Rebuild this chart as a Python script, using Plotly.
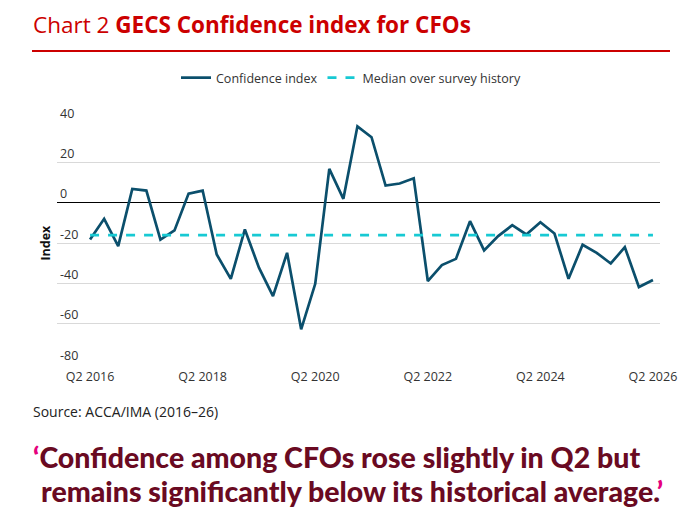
import plotly.graph_objects as go

# quarters Q2 2016 .. Q2 2026
quarters = [f"Q{(q % 4) + 1} {2016 + (q + 1) // 4}" for q in range(1, 42)]
confidence = [
    -18.2, -7.9, -21.5, 6.9, 6.1, -18.2, -13.7, 4.6, 6.1, -25.6,
    -37.7, -13.2, -32.2, -46.3, -24.8, -62.8, -40.2, 16.9, 2.0, 38.0,
    32.6, 8.6, 9.6, 12.2, -38.8, -30.9, -27.8, -9.1, -23.6, -16.5,
    -11.1, -15.7, -9.6, -15.2, -37.7, -20.8, -24.8, -30.1, -22.0, -41.8,
    -38.3,
]
median_value = -16.0
tick_labels = ["Q2 2016", "Q2 2018", "Q2 2020", "Q2 2022", "Q2 2024", "Q2 2026"]
y_ticks = [40, 20, 0, -20, -40, -60, -80]

x_idx = list(range(len(quarters)))

# page body adds an 8px margin, so work in page pixels and shift back
OFF = 8
W, H = 688 - 2 * OFF, 522 - 2 * OFF


def px(x):
    return (x - OFF) / W


def py(y):
    return 1 - (y - OFF) / H


fig = go.Figure()
fig.add_trace(go.Scatter(
    x=x_idx, y=confidence, mode='lines', name='Confidence index',
    line=dict(color='#0B4F6C', width=2.7),
))
fig.add_trace(go.Scatter(
    x=x_idx, y=[median_value] * len(x_idx), mode='lines',
    name='Median over survey history',
    line=dict(color='#17C9D3', width=2.7, dash='dash'),
))

fig.update_layout(
    width=W, height=H,
    margin=dict(l=0, r=0, t=0, b=0, autoexpand=False),
    paper_bgcolor='white', plot_bgcolor='white',
    font=dict(family='Open Sans', size=12, color='#333333'),
    showlegend=True,
    legend=dict(
        orientation='h', x=px(351), xanchor='center', y=py(78), yanchor='middle',
        font=dict(size=12.5, color='#333333'), itemwidth=30, tracegroupgap=0,
    ),
    xaxis=dict(
        domain=[px(57), px(660)], range=[-2.35, 40.5], automargin=False,
        tickvals=[0, 8, 16, 24, 32, 40], ticktext=tick_labels,
        showgrid=False, zeroline=False, showline=False, ticks='',
        ticklabelstandoff=3,
        tickfont=dict(size=12.5, color='#333333'),
    ),
    yaxis=dict(
        domain=[py(364.6), py(121.7)], range=[-80.3, 40.3], automargin=False,
        tickvals=y_ticks, ticktext=[str(v) for v in y_ticks],
        ticklabelposition='inside top', ticklabeloverflow='allow',
        showgrid=True, gridcolor='#D9D9D9', gridwidth=1,
        zeroline=True, zerolinecolor='#000000', zerolinewidth=1.2,
        showline=False, ticks='',
        tickfont=dict(size=12.5, color='#333333'),
        title=dict(text='<b>Index</b>', font=dict(size=12.5, color='#111111'), standoff=6),
    ),
)

fig.add_shape(type='line', xref='paper', yref='paper',
              x0=px(32), x1=px(670), y0=py(51), y1=py(51),
              line=dict(color='#CC0000', width=2))

fig.add_annotation(
    xref='paper', yref='paper', x=px(31), y=py(24), xanchor='left', yanchor='middle',
    text='Chart 2 <b>GECS Confidence index for CFOs</b>', showarrow=False,
    font=dict(family='Open Sans', size=22.5, color='#CC0000'),
)
fig.add_annotation(
    xref='paper', yref='paper', x=px(31), y=py(411), xanchor='left', yanchor='middle',
    text='Source: ACCA/IMA (2016–26)', showarrow=False,
    font=dict(family='Open Sans', size=14, color='#222222'),
)
quote_font = dict(family='Lato', size=28.5, color='#6A0A22', weight=900)
fig.add_annotation(
    xref='paper', yref='paper', x=px(31), y=py(457), xanchor='left', yanchor='middle',
    showarrow=False, font=quote_font,
    text="<span style='color:#E5007D'>‘</span>Confidence among CFOs rose slightly in Q2 but",
)
fig.add_annotation(
    xref='paper', yref='paper', x=px(39), y=py(491), xanchor='left', yanchor='middle',
    showarrow=False, font=quote_font,
    text="remains significantly below its historical average.<span style='color:#E5007D'>’</span>",
)

fig.write_html("out.html")
